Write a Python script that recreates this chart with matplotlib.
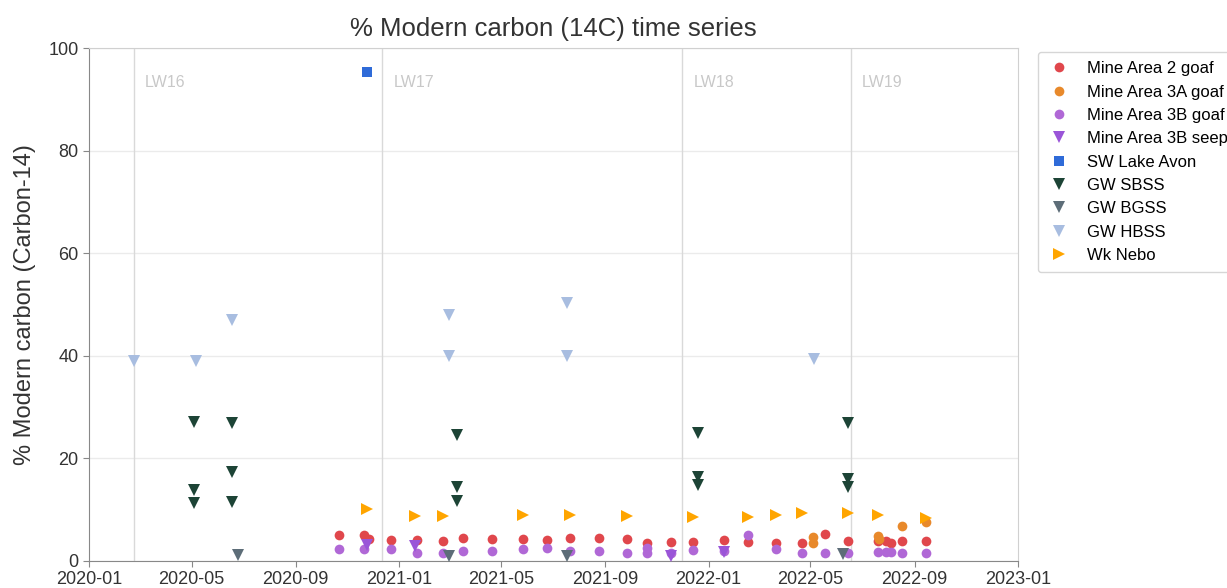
import matplotlib
matplotlib.use('Agg')
import matplotlib.pyplot as plt
import matplotlib.dates as mdates
import numpy as np
import pandas as pd

plt.rcParams['font.family'] = ['Liberation Sans', 'DejaVu Sans']

# Mine Area 2 goaf
ma2_dates = ['2020-10-22', '2020-11-21', '2020-11-26', '2020-12-22', '2021-01-22', '2021-02-22',
             '2021-03-17', '2021-04-20', '2021-05-27', '2021-06-24', '2021-07-21', '2021-08-25',
             '2021-09-27', '2021-10-20', '2021-11-18', '2021-12-13', '2022-01-19', '2022-02-16',
             '2022-03-22', '2022-04-21', '2022-05-18', '2022-06-14', '2022-07-20', '2022-07-29',
             '2022-08-04', '2022-08-17', '2022-09-14']
ma2_vals = [5.0, 5.0, 4.3, 4.1, 4.1, 3.9, 4.5, 4.35, 4.3, 4.1, 4.5, 4.4, 4.3, 3.5, 3.7, 3.6,
            4.1, 3.7, 3.5, 3.5, 5.3, 3.9, 3.9, 3.8, 3.5, 3.9, 3.9]

# Mine Area 3A goaf
ma3a_dates = ['2022-05-04', '2022-05-04', '2022-07-20', '2022-07-21', '2022-08-17', '2022-09-14']
ma3a_vals = [4.7, 3.5, 4.8, 4.2, 6.8, 7.6]

# Mine Area 3B goaf
ma3b_dates = ['2020-10-22', '2020-11-21', '2020-12-22', '2021-01-22', '2021-02-22', '2021-03-17',
              '2021-04-20', '2021-05-27', '2021-06-24', '2021-07-21', '2021-08-25', '2021-09-27',
              '2021-10-20', '2021-10-20', '2021-11-18', '2021-12-13', '2022-01-19', '2022-02-16',
              '2022-03-22', '2022-04-21', '2022-05-18', '2022-06-14', '2022-07-20', '2022-07-29',
              '2022-08-04', '2022-08-17', '2022-09-14']
ma3b_vals = [2.3, 2.3, 2.3, 1.5, 1.5, 2.0, 2.0, 2.3, 2.5, 2.0, 2.0, 1.5, 2.5, 1.5, 1.5, 2.1,
             2.0, 5.1, 2.3, 1.5, 1.5, 1.5, 1.8, 1.7, 1.7, 1.5, 1.5]

# Mine Area 3B seep
seep_dates = ['2020-11-24', '2021-01-20', '2021-11-18', '2022-01-19']
seep_vals = [3.2, 3.0, 1.0, 1.8]

# SW Lake Avon
avon_dates = ['2020-11-24']
avon_vals = [95.3]

# GW SBSS
sbss_dates = ['2020-05-04'] * 3 + ['2020-06-18'] * 3 + ['2021-03-10'] * 3 + \
             ['2021-12-19'] * 3 + ['2022-06-14'] * 3
sbss_vals = [27.1, 13.8, 11.3, 26.9, 17.4, 11.5, 24.6, 14.5, 11.7, 25.0, 16.4, 14.8, 27.0, 16.0, 14.4]

# GW BGSS
bgss_dates = ['2020-06-25', '2021-03-01', '2021-07-18', '2022-06-08']
bgss_vals = [1.2, 1.0, 1.0, 1.4]

# GW HBSS
hbss_dates = ['2020-02-23', '2020-05-06', '2020-06-18', '2021-03-01', '2021-03-01',
              '2021-07-18', '2021-07-18', '2022-05-05']
hbss_vals = [39.0, 39.0, 47.0, 48.0, 40.0, 50.3, 40.0, 39.4]

# Wk Nebo
nebo_dates = ['2020-11-24', '2021-01-20', '2021-02-22', '2021-05-27', '2021-07-21', '2021-09-27',
              '2021-12-13', '2022-02-16', '2022-03-22', '2022-04-21', '2022-06-14', '2022-07-20',
              '2022-09-14']
nebo_vals = [10.1, 8.8, 8.8, 9.0, 8.9, 8.7, 8.6, 8.6, 9.0, 9.4, 9.4, 8.9, 8.3]

# longwall start markers
lw_names = ['LW16', 'LW17', 'LW18', 'LW19']
lw_dates = ['2020-02-23', '2020-12-12', '2021-12-01', '2022-06-18']

series = [
    ('Mine Area 2 goaf', ma2_dates, ma2_vals, 'o', '#e0474c', 7),
    ('Mine Area 3A goaf', ma3a_dates, ma3a_vals, 'o', '#e8892b', 7),
    ('Mine Area 3B goaf', ma3b_dates, ma3b_vals, 'o', '#b068d6', 7),
    ('Mine Area 3B seep', seep_dates, seep_vals, 'v', '#9a55d8', 8),
    ('SW Lake Avon', avon_dates, avon_vals, 's', '#2f6bd8', 6.5),
    ('GW SBSS', sbss_dates, sbss_vals, 'v', '#1d4436', 8),
    ('GW BGSS', bgss_dates, bgss_vals, 'v', '#5d6d78', 8),
    ('GW HBSS', hbss_dates, hbss_vals, 'v', '#a8bde0', 8),
    ('Wk Nebo', nebo_dates, nebo_vals, '>', '#ffa500', 8),
]

fig = plt.figure(figsize=(12.27, 5.88), dpi=100)
ax = fig.add_axes([0.0725, 0.046, 0.7572, 0.872])

for name, d, v, m, c, ms in series:
    ax.plot(pd.to_datetime(d), v, linestyle='none', marker=m, color=c, markersize=ms,
            markeredgewidth=0, label=name, zorder=3)

for name, d in zip(lw_names, lw_dates):
    t = pd.Timestamp(d)
    ax.axvline(t, color='#d9d9d9', linewidth=1, zorder=1)
    ax.text(t + pd.Timedelta(days=13), 93.4, name, color='#c8c8c8', fontsize=11.5,
            va='center', ha='left')

ax.set_xlim(pd.Timestamp('2020-01-01'), pd.Timestamp('2023-01-01'))
ax.set_ylim(0, 100)
ax.set_yticks(np.arange(0, 101, 20))
ax.xaxis.set_major_locator(mdates.MonthLocator(bymonth=[1, 5, 9]))
ax.xaxis.set_major_formatter(mdates.DateFormatter('%Y-%m'))
ax.yaxis.grid(True, color='#ebebeb', linewidth=1, zorder=0)
ax.set_axisbelow(True)

for s in ['top', 'right']:
    ax.spines[s].set_color('#d0d0d0')
for s in ['left', 'bottom']:
    ax.spines[s].set_color('#888888')
ax.tick_params(axis='both', labelsize=13, colors='#333333', length=4)
ax.tick_params(axis='y', length=4, color='#888888')
ax.tick_params(axis='x', color='#888888')

ax.set_title('% Modern carbon (14C) time series', fontsize=18.5, color='#333333', pad=9)
ax.set_ylabel('% Modern carbon (Carbon-14)', fontsize=17, color='#333333', labelpad=9)

leg = fig.legend(loc='upper left', bbox_to_anchor=(0.842, 0.92), fontsize=12,
                 frameon=True, edgecolor='#cccccc', handletextpad=1.0, labelspacing=0.5,
                 borderpad=0.55, handlelength=1.4, borderaxespad=0.3)
leg.get_frame().set_linewidth(1)

fig.savefig('out.png', dpi=100)
